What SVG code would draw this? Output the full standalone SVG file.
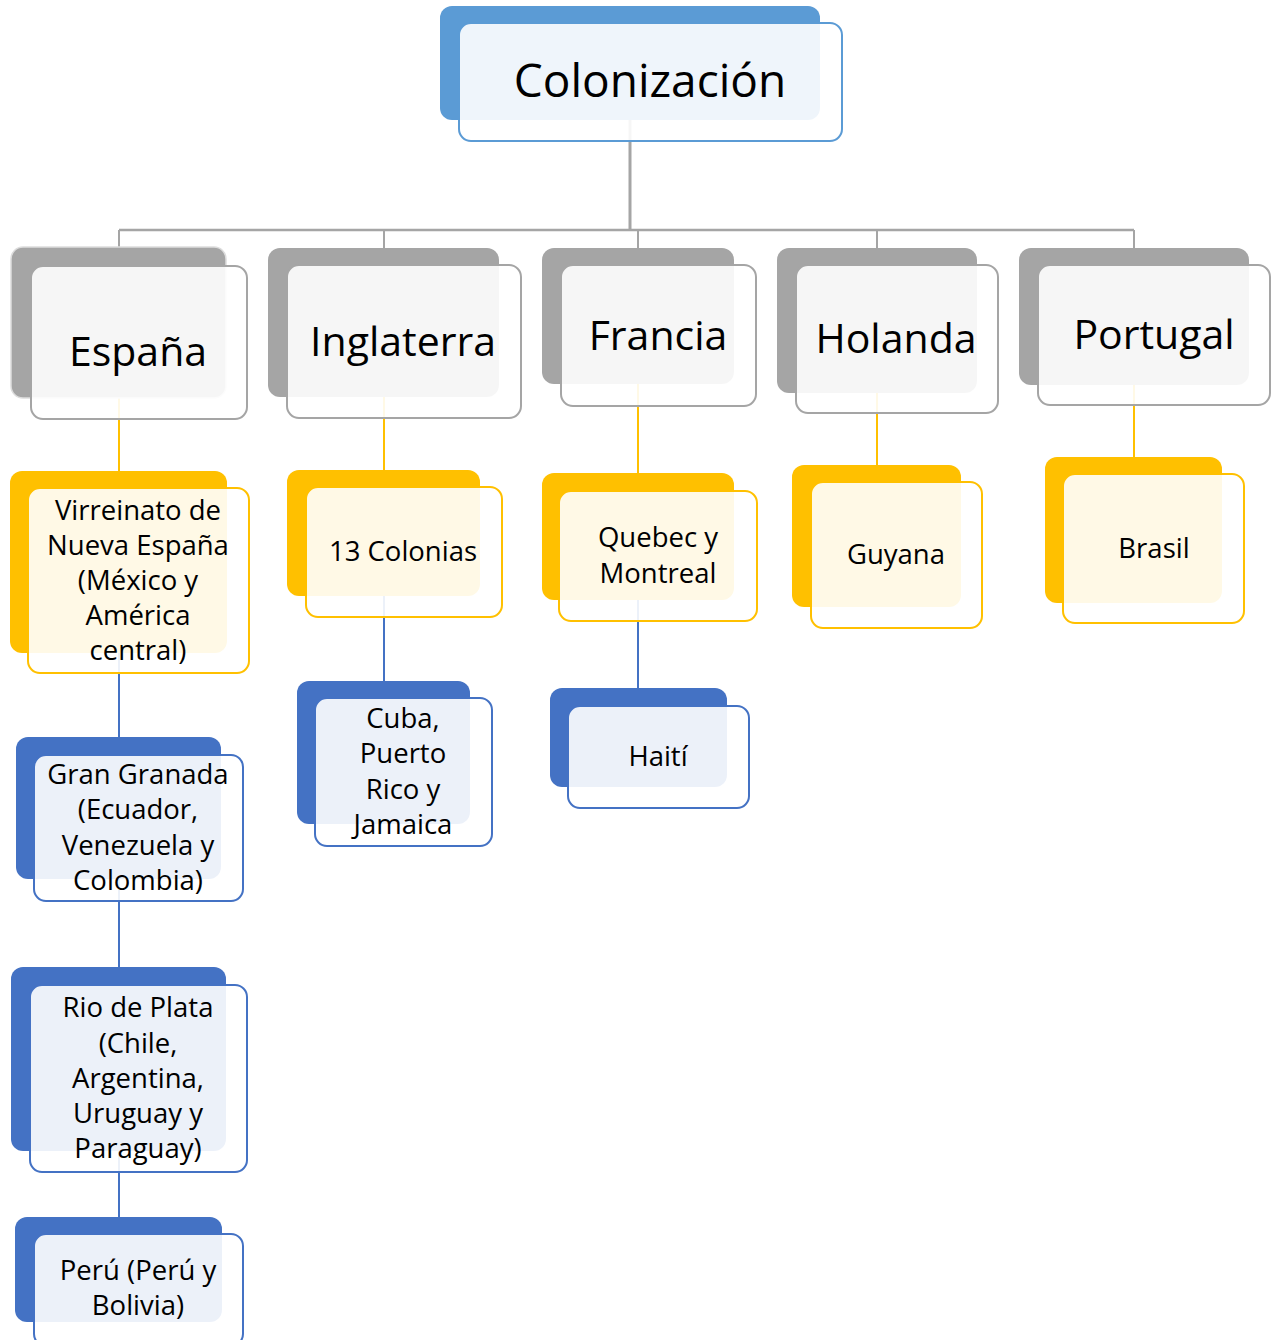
<svg xmlns="http://www.w3.org/2000/svg" width="1272" height="1340" viewBox="0 0 1272 1340">
<style>
.bg{fill:#FFFFFF}
.b0{fill:#5B9BD5}
.bg2{fill:#A5A5A5}
.by{fill:#FFC000}
.bb{fill:#4472C4}
.f{fill:#FFFFFF;fill-opacity:0.9;stroke-width:2}
.f0{stroke:#5B9BD5}
.fg{stroke:#A5A5A5}
.fy{stroke:#FFC000}
.fb{stroke:#4472C4}
.t{font-family:"Open Sans","Noto Sans",sans-serif;fill:#000000;text-anchor:middle}
.t1{font-size:46px}
.t2{font-size:41px}
.t3{font-size:27.5px}
.cg{stroke:#A5A5A5;fill:none}
.cy{stroke:#FFC000;stroke-width:2;fill:none}
.cb{stroke:#4472C4;stroke-width:2;fill:none}
</style>
<rect class="bg" x="0" y="0" width="1272" height="1340"/>
<g id="connectors">
<path class="cg" stroke-width="3" d="M630 110 V231"/>
<path class="cg" stroke-width="2.5" d="M119 230 H1134"/>
<path class="cg" stroke-width="2" d="M119 230 V252 M384 230 V252 M638 230 V252 M877 230 V252 M1134 230 V252"/>
<path class="cy" d="M119 390 V474 M384 390 V472 M638 380 V475 M877 390 V467 M1134 380 V459"/>
<path class="cb" d="M384 590 V683 M638 595 V690 M119 650 V740 M119 875 V970 M119 1148 V1220"/>
</g>
<g id="n-colonizacion">
<rect class="b0" x="440" y="6" width="380" height="114" rx="12"/>
<rect class="f f0" x="459" y="23" width="383" height="118" rx="12"/>
<text class="t t1" x="650" y="97">Colonización</text>
</g>
<g id="n-espana">
<rect class="bg2" x="11" y="247" width="215" height="151" rx="12" stroke="#DDDDDD" stroke-width="1.5"/>
<rect class="f fg" x="31" y="266" width="216" height="153" rx="12"/>
<text class="t t2" x="138" y="366">España</text>
</g>
<g id="n-inglaterra">
<rect class="bg2" x="268" y="248" width="231" height="149" rx="12"/>
<rect class="f fg" x="287" y="265" width="234" height="153" rx="12"/>
<text class="t t2" x="403" y="356">Inglaterra</text>
</g>
<g id="n-francia">
<rect class="bg2" x="542" y="248" width="192" height="136" rx="12"/>
<rect class="f fg" x="561" y="265" width="195" height="141" rx="12"/>
<text class="t t2" x="658" y="350">Francia</text>
</g>
<g id="n-holanda">
<rect class="bg2" x="777" y="248" width="200" height="145" rx="12"/>
<rect class="f fg" x="796" y="265" width="202" height="148" rx="12"/>
<text class="t t2" x="896" y="353">Holanda</text>
</g>
<g id="n-portugal">
<rect class="bg2" x="1019" y="248" width="230" height="137" rx="12"/>
<rect class="f fg" x="1038" y="265" width="232" height="140" rx="12"/>
<text class="t t2" x="1154" y="349">Portugal</text>
</g>
<g id="n-virreinato">
<rect class="by" x="10" y="471" width="217" height="182" rx="12"/>
<rect class="f fy" x="28" y="488" width="221" height="185" rx="12"/>
<text class="t t3" x="138" y="520">Virreinato de</text>
<text class="t t3" x="138" y="555">Nueva España</text>
<text class="t t3" x="138" y="590">(México y</text>
<text class="t t3" x="138" y="625">América</text>
<text class="t t3" x="138" y="660">central)</text>
</g>
<g id="n-13colonias">
<rect class="by" x="287" y="470" width="193" height="126" rx="12"/>
<rect class="f fy" x="306" y="487" width="196" height="130" rx="12"/>
<text class="t t3" x="403" y="561">13 Colonias</text>
</g>
<g id="n-quebec">
<rect class="by" x="542" y="473" width="192" height="127" rx="12"/>
<rect class="f fy" x="559" y="491" width="198" height="130" rx="12"/>
<text class="t t3" x="658" y="547">Quebec y</text>
<text class="t t3" x="658" y="583">Montreal</text>
</g>
<g id="n-guyana">
<rect class="by" x="792" y="465" width="169" height="142" rx="12"/>
<rect class="f fy" x="811" y="482" width="171" height="146" rx="12"/>
<text class="t t3" x="896" y="564">Guyana</text>
</g>
<g id="n-brasil">
<rect class="by" x="1045" y="457" width="177" height="146" rx="12"/>
<rect class="f fy" x="1063" y="474" width="181" height="149" rx="12"/>
<text class="t t3" x="1154" y="558">Brasil</text>
</g>
<g id="n-cuba">
<rect class="bb" x="297" y="681" width="173" height="143" rx="12"/>
<rect class="f fb" x="315" y="698" width="177" height="148" rx="12"/>
<text class="t t3" x="403" y="728">Cuba,</text>
<text class="t t3" x="403" y="763">Puerto</text>
<text class="t t3" x="403" y="799">Rico y</text>
<text class="t t3" x="403" y="834">Jamaica</text>
</g>
<g id="n-haiti">
<rect class="bb" x="550" y="688" width="177" height="99" rx="12"/>
<rect class="f fb" x="568" y="706" width="181" height="102" rx="12"/>
<text class="t t3" x="658" y="766">Haití</text>
</g>
<g id="n-granada">
<rect class="bb" x="16" y="737" width="205" height="142" rx="12"/>
<rect class="f fb" x="34" y="755" width="209" height="146" rx="12"/>
<text class="t t3" x="138" y="784">Gran Granada</text>
<text class="t t3" x="138" y="819">(Ecuador,</text>
<text class="t t3" x="138" y="855">Venezuela y</text>
<text class="t t3" x="138" y="890">Colombia)</text>
</g>
<g id="n-rioplata">
<rect class="bb" x="11" y="967" width="215" height="184" rx="12"/>
<rect class="f fb" x="30" y="985" width="217" height="187" rx="12"/>
<text class="t t3" x="138" y="1017">Rio de Plata</text>
<text class="t t3" x="138" y="1053">(Chile,</text>
<text class="t t3" x="138" y="1088">Argentina,</text>
<text class="t t3" x="138" y="1123">Uruguay y</text>
<text class="t t3" x="138" y="1158">Paraguay)</text>
</g>
<g id="n-peru">
<rect class="bb" x="15" y="1217" width="207" height="105" rx="12"/>
<rect class="f fb" x="34" y="1234" width="209" height="112" rx="12"/>
<text class="t t3" x="138" y="1280">Perú (Perú y</text>
<text class="t t3" x="138" y="1315">Bolivia)</text>
</g>
</svg>
